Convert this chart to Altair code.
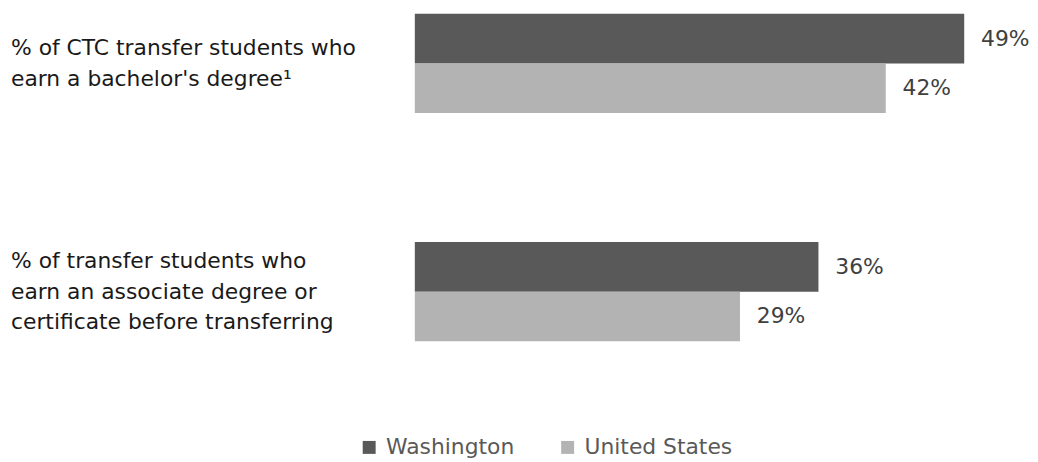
import altair as alt
import pandas as pd

categories = ["% of CTC transfer students who|earn a bachelor's degree\u00b9",
              "% of transfer students who|earn an associate degree or|certificate before transferring"]
series = ["Washington", "United States"]
washington = [49, 36]
united_states = [42, 29]

rows = []
for i, c in enumerate(categories):
    rows.append({"cat": c, "series": series[0], "value": washington[i]})
    rows.append({"cat": c, "series": series[1], "value": united_states[i]})
df = pd.DataFrame(rows)
df["label"] = df["value"].astype(str) + "%"
cat_df = pd.DataFrame({"cat": categories})

FONT = "DejaVu Sans"
LH = 31
y_scale = alt.Scale(domain=categories, paddingInner=130/230, paddingOuter=0)
y_enc = alt.Y("cat:N", sort=categories, title=None, scale=y_scale, axis=None)
yoff = alt.YOffset("series:N", sort=series, scale=alt.Scale(paddingInner=0, paddingOuter=0))
x_enc = alt.X("value:Q", scale=alt.Scale(domain=[0, 50]), axis=None)

bars = alt.Chart(df).mark_bar().encode(
    x=x_enc, y=y_enc, yOffset=yoff,
    color=alt.Color("series:N", sort=series,
                    scale=alt.Scale(domain=series, range=["#595959", "#b3b3b3"]),
                    legend=alt.Legend(title=None, orient="none", direction="horizontal",
                                      legendX=-57, legendY=426, symbolType="square",
                                      symbolSize=170, labelFont=FONT, labelFontSize=22,
                                      labelColor="#595959", columnPadding=42,
                                      symbolStrokeWidth=0, labelOffset=6)),
)
texts = alt.Chart(df).mark_text(align="left", baseline="middle", dx=17, font=FONT,
                                fontSize=22, color="#404040").encode(
    x=x_enc, y=y_enc, yOffset=yoff, text="label:N")

label_layers = []
for c in categories:
    n = len(c.split("|"))
    label_layers.append(
        alt.Chart(cat_df).transform_filter(alt.datum.cat == c)
        .mark_text(align="left", baseline="middle", lineBreak="|", lineHeight=LH,
                   dy=-(n - 1) * LH / 2, font=FONT, fontSize=22, color="#1a1a1a")
        .encode(x=alt.value(-407), y=y_enc, text="cat:N")
    )

chart = alt.layer(bars, texts, *label_layers).properties(
    width=565, height=330,
    autosize=alt.AutoSizeParams(type="none"),
    padding={"left": 410, "top": 4, "right": 55, "bottom": 140},
).configure_view(stroke=None)

chart.save("out.html", embed_options={"renderer": "svg", "actions": False})
